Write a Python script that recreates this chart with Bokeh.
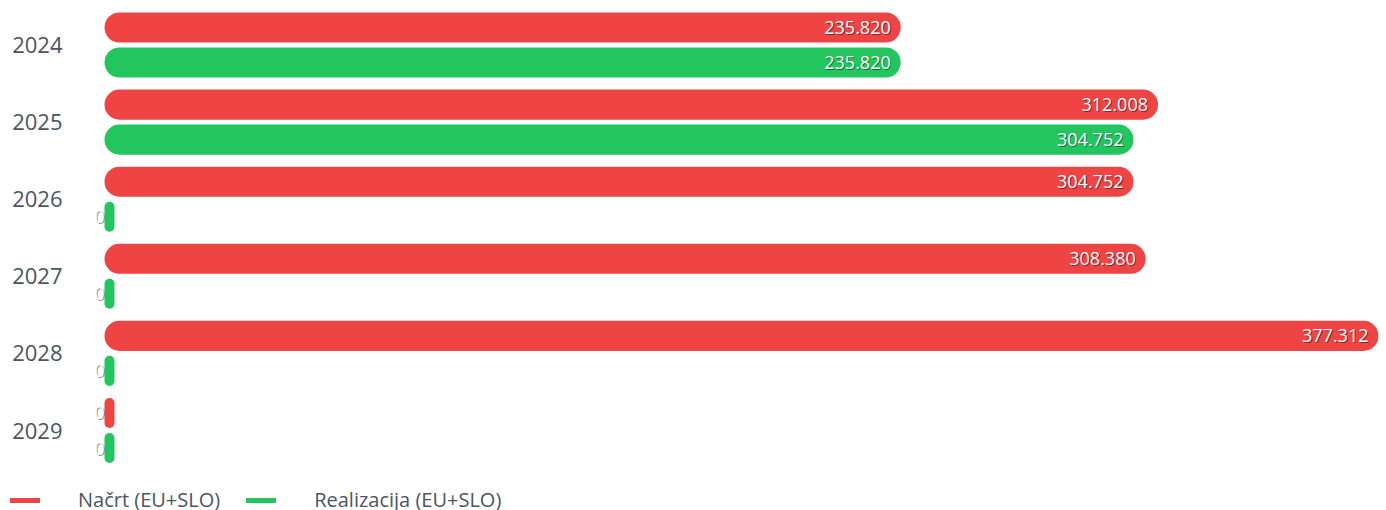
from bokeh.plotting import figure
from bokeh.layouts import column
from bokeh.models import ColumnDataSource, Range1d, FixedTicker, Legend, LegendItem
from bokeh.embed import file_html
from bokeh.resources import INLINE
from bokeh.core.properties import value

# ---- data ----
years = ["2024", "2025", "2026", "2027", "2028", "2029"]
nacrt = [235820, 312008, 304752, 308380, 377312, 0]
realizacija = [235820, 304752, 0, 0, 0, 0]
series_names = ["Načrt (EU+SLO)", "Realizacija (EU+SLO)"]
series_colors = ["#EF4444", "#22C55E"]

# ---- layout constants ----
X_MAX = max(nacrt + realizacija)
BAR_PX = 1274                      # pixels from 0 to the max value
PX_PER_UNIT = BAR_PX / X_MAX
MIN_BAR = 10 / PX_PER_UNIT         # minimal visible bar (10 px) for zero values
LEFT_PAD = 20 / PX_PER_UNIT
FONT = "Open Sans"
LABEL_COLOR = "#4b5563"


def fmt(v):
    return f"{v:,}".replace(",", ".")


p = figure(
    frame_width=1294, frame_height=480,
    x_range=Range1d(-LEFT_PAD, X_MAX),
    y_range=Range1d(5.6485, -0.5772),
    output_backend="svg", toolbar_location=None,
    min_border_left=84, min_border_right=8, min_border_top=0, min_border_bottom=0,
)
p.frame_align = False
p.outline_line_color = None
p.xgrid.visible = False
p.ygrid.visible = False
p.xaxis.visible = False

yax = p.yaxis[0]
yax.ticker = FixedTicker(ticks=list(range(len(years))))
yax.major_label_overrides = {i: y for i, y in enumerate(years)}
yax.axis_line_color = None
yax.major_tick_line_color = None
yax.minor_tick_line_color = None
yax.major_tick_out = 0
yax.major_tick_in = 0
yax.major_label_standoff = 22
yax.major_label_text_font = FONT
yax.major_label_text_font_size = "22px"
yax.major_label_text_color = LABEL_COLOR

# legend strip below the chart
lg = figure(
    width=1386, height=30, x_range=Range1d(0, 1), y_range=Range1d(0, 1),
    output_backend="svg", toolbar_location=None,
    min_border_left=0, min_border_right=0, min_border_top=0, min_border_bottom=0,
)
lg.frame_align = False
lg.outline_line_color = None
lg.xgrid.visible = False
lg.ygrid.visible = False
lg.xaxis.visible = False
lg.yaxis.visible = False

offsets = [-0.227, 0.227]
legend_items = []
for name, vals, color, dy in zip(series_names, [nacrt, realizacija], series_colors, offsets):
    src = ColumnDataSource(dict(
        y=[i + dy for i in range(len(years))],
        right=[max(v, MIN_BAR) for v in vals],
        label=[fmt(v) for v in vals],
    ))
    p.hbar(y="y", left=0, right="right", height=0.39, source=src,
           fill_color=color, line_color=None, border_radius=15)
    # drop shadow
    p.text(x="right", y="y", text="label", source=src, x_offset=-9, y_offset=1,
           text_align="right", text_baseline="middle", text_color="#000000", text_alpha=0.45,
           text_font=value(FONT), text_font_size="18px")
    p.text(x="right", y="y", text="label", source=src, x_offset=-10, y_offset=0,
           text_align="right", text_baseline="middle", text_color="#ffffff",
           text_font=value(FONT), text_font_size="18px")
    r = lg.line(x=[0, 0], y=[-5, -5], line_color=color, line_width=5, line_cap="round")
    legend_items.append(LegendItem(label=name, renderers=[r]))

legend = Legend(
    items=legend_items, orientation="horizontal", location=(10, -3),
    glyph_width=30, glyph_height=20, label_standoff=38, spacing=26,
    padding=0, margin=0, border_line_color=None, background_fill_alpha=0,
    label_text_font=FONT, label_text_font_size="20px", label_text_color=LABEL_COLOR,
)
lg.add_layout(legend)

layout = column(p, lg, spacing=0)
open("out.html", "w").write(file_html(layout, INLINE))
